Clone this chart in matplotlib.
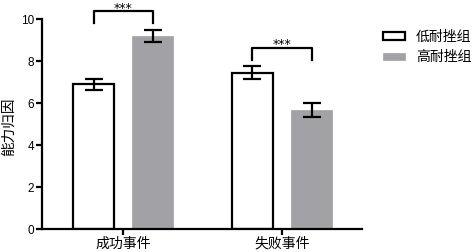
import matplotlib
matplotlib.use('Agg')
import matplotlib.pyplot as plt
import numpy as np

plt.rcParams['font.family'] = ['Noto Sans CJK SC', 'DejaVu Sans']

# 数据
categories = ['成功事件', '失败事件']
groups = ['低耐挫组', '高耐挫组']
low_means = [6.9, 7.44]
low_err = [0.26, 0.30]
high_means = [9.19, 5.67]
high_err = [0.28, 0.32]
yticks = [0, 2, 4, 6, 8, 10]

fig = plt.figure(figsize=(4.73, 2.52), dpi=100)
ax = fig.add_axes([42 / 473, 23 / 252, 320 / 473, 210 / 252])

x = np.arange(len(categories))
w = 0.258
off = 0.186
lw = 1.6

ax.bar(x - off, low_means, w, color='white', edgecolor='black', linewidth=lw,
       label=groups[0], zorder=2)
ax.bar(x + off, high_means, w, color='#a2a2a6', edgecolor='#a2a2a6', linewidth=0.5,
       label=groups[1], zorder=2)
ax.errorbar(x - off, low_means, yerr=low_err, fmt='none', ecolor='black',
            elinewidth=lw, capsize=6.5, capthick=lw, zorder=3)
ax.errorbar(x + off, high_means, yerr=high_err, fmt='none', ecolor='black',
            elinewidth=lw, capsize=6.5, capthick=lw, zorder=3)

# 显著性标记
brackets = [(0, 9.8, 10.37), (1, 8.05, 8.62)]
for xi, lo, hi in brackets:
    ax.plot([xi - off, xi - off, xi + off, xi + off], [lo, hi, hi, lo],
            color='black', linewidth=lw, clip_on=False)
    ax.text(xi, hi - 0.02, '***', ha='center', va='baseline', fontsize=9,
            family=['DejaVu Sans'], clip_on=False)

ax.set_xlim(-0.51, 1.503)
ax.set_ylim(0, 10)
ax.set_yticks(yticks)
ax.set_yticklabels([str(v) for v in yticks], family=['Liberation Sans'], fontsize=8.5)
ax.set_xticks(x)
ax.set_xticklabels(categories, fontsize=10)
for s in ['top', 'right']:
    ax.spines[s].set_visible(False)
for s in ['left', 'bottom']:
    ax.spines[s].set_linewidth(lw)
ax.tick_params(width=lw, length=4, pad=1.5)

fig.text(9 / 473, 1 - 127 / 252, '能力归因', rotation=90, ha='center', va='center',
         fontsize=10.5)

ax.legend(loc='upper left', bbox_to_anchor=(370 / 473, 1 - 17 / 252),
          bbox_transform=fig.transFigure, frameon=False, fontsize=10,
          handlelength=1.6, handleheight=0.5, handletextpad=0.8, labelspacing=0.5)

fig.savefig('out.png', dpi=100)
